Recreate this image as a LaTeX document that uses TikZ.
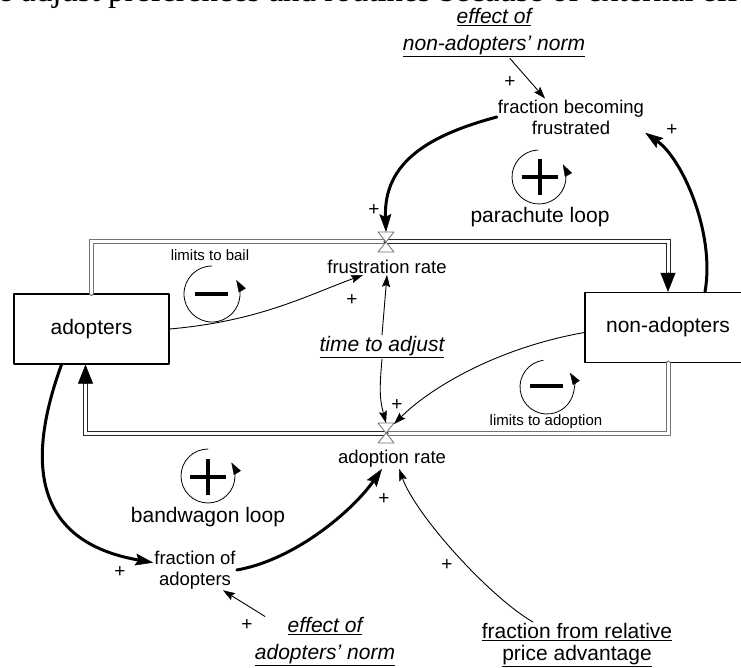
\documentclass[tikz,border=0pt]{standalone}
\usepackage{fontspec}
\setmainfont{Liberation Sans}
\newfontfamily\bodyserif{Liberation Serif}
\usetikzlibrary{arrows.meta}
% underlined label line with a visible rule
\newcommand\ulabel[1]{\leavevmode\vtop{\hbox{#1}\kern1.2pt\hrule height 0.9pt}}

\begin{document}
\begin{tikzpicture}[x=1pt,y=1pt,line cap=round,line join=round,
  >={Stealth[length=12pt,width=8pt,inset=2pt,line width=0.4pt]},
  var/.style={align=center,inner sep=1pt,font=\fontsize{18.5}{21}\selectfont},
  stock/.style={draw,line width=1.2pt,minimum width=155pt,minimum height=70pt,font=\fontsize{21}{24}\selectfont},
  given/.style={inner sep=1pt,font=\fontsize{21}{24}\selectfont},
  givenit/.style={align=center,inner sep=1pt,font=\fontsize{21}{27}\selectfont\itshape},
  looplbl/.style={font=\fontsize{21}{24}\selectfont},
  looplbls/.style={font=\fontsize{15}{18}\selectfont},
  pol/.style={inner sep=0pt,font=\fontsize{19}{20}\selectfont},
  link/.style={->,line width=0.9pt},
  strong/.style={-{Stealth[length=18pt,width=12pt,inset=3pt,line width=0.5pt]},line width=3pt},
  pipe/.style={draw=#1,double=white,double distance=3pt,line width=1pt,line join=miter},
  pipehead/.style={-{Triangle[length=19pt,width=15pt,line width=0.5pt]},line width=1pt},
  valve/.style={draw=black!55,fill=white,line width=0.8pt},
  loopcirc/.style={-{Triangle[length=12pt,width=8pt,line width=0.4pt]},line width=0.8pt},
  sign/.style={line width=4pt,line cap=butt}]
\clip (0,0) rectangle (741,-668);

% running text above the figure
\node[anchor=base west,inner sep=0pt,font=\bodyserif\fontsize{33}{36}\selectfont] (bodyline) at (-2,-2) {e adjust preferences and routines because of external effects};

% stocks and valves
\node[stock] (adopt) at (91.5,-329) {adopters};
\node[stock,minimum width=166pt] (nonadopt) at (668,-327.5) {non-adopters};
\coordinate (vtop) at (386,-242);
\coordinate (vbot) at (386,-433);

% variables
\node[var] (frate) at (387,-267) {frustration rate};
\node[var] (arate) at (392,-459) {adoption rate};
\node[var] (fbf) at (571,-117) {fraction becoming\\frustrated};
\node[var] (foa) at (195,-570) {fraction of\\adopters};
\node[givenit] (tadj) at (382,-347) {\ulabel{time to adjust}};
\node[givenit] (enn) at (494,-33) {\ulabel{effect of}\\\ulabel{non-adopters' norm}};
\node[givenit] (ean) at (325,-642) {\ulabel{effect of}\\\ulabel{adopters' norm}};
\node[given] (frpa) at (577,-632) {\ulabel{fraction from relative}};
\node[given] (frpb) at (577,-656) {\ulabel{price advantage}};

% flows
\draw[pipe=black!55] (adopt.north) |- (vtop);
\draw[pipe=black!85] (vtop) -| ([yshift=19pt]nonadopt.north);
\draw[pipehead] ([yshift=19pt]nonadopt.north) -- (nonadopt.north);
\draw[pipe=black!55] (nonadopt.south) |- (vbot);
\draw[pipe=black!85] (vbot) -| ([xshift=-6pt,yshift=-19pt]adopt.south);
\draw[pipehead] ([xshift=-6pt,yshift=-19pt]adopt.south) -- ([xshift=-6pt]adopt.south);
\draw[valve] ([shift={(-8pt,10pt)}]vtop) -- ++(16,0) -- ++(-16,-20) -- ++(16,0) -- cycle;
\draw[valve] ([shift={(-8pt,10pt)}]vbot) -- ++(16,0) -- ++(-16,-20) -- ++(16,0) -- cycle;

% causal links
\draw[link] ([xshift=16pt]enn.south) -- ([xshift=-26pt]fbf.north);
\draw[strong] (fbf.west) .. controls +(195:70) and +(92:70) .. ([yshift=10pt]vtop);
\draw[strong] ([xshift=37pt]nonadopt.north) .. controls +(80:60) and +(-35:45) .. (fbf.-12);
\draw[link] (adopt.east) .. controls +(5:90) and +(200:60) .. ([xshift=-24pt]frate.south);
\draw[link] (tadj.north) -- (frate.south);
\draw[link] (tadj.south) .. controls +(265:30) and +(105:25) .. ([yshift=10pt]vbot);
\draw[link] ([yshift=-5pt]nonadopt.west) .. controls +(190:90) and +(45:50) .. ([shift={(8pt,9pt)}]vbot);
\draw[strong] ([xshift=-30pt]adopt.south) .. controls +(250:120) and +(170:110) .. (foa.170);
\draw[strong] (foa.east) .. controls +(10:60) and +(235:50) .. ([xshift=-10pt]arate.south);
\draw[link] ([xshift=-44pt]frpa.north) .. controls +(150:50) and +(-70:50) .. ([xshift=7pt]arate.south);
\draw[link] ([xshift=-60pt]ean.north) -- ([xshift=28pt]foa.south);

% link polarities
\node[pol] (sgn1) at (510,-82) {+};
\node[pol] (sgn2) at (672,-130) {+};
\node[pol] (sgn3) at (374,-210) {+};
\node[pol] (sgn4) at (352,-300) {+};
\node[pol] (sgn5) at (397,-405) {+};
\node[pol] (sgn6) at (120,-572) {+};
\node[pol] (sgn7) at (384,-499) {+};
\node[pol] (sgn8) at (447,-565) {+};
\node[pol] (sgn9) at (247,-625) {+};

% loop markers
\draw[loopcirc] (539,-177) ++(92:27) arc (92:388:27);
\draw[sign] (522,-177) -- (558,-177) (540,-159) -- (540,-195);
\node[looplbl] (parachute) at (540,-217) {parachute loop};

\draw[loopcirc] (212,-294) ++(90:28) arc (90:390:28);
\draw[sign] (195,-294) -- (228,-294);
\node[looplbls] (bail) at (210,-255) {limits to bail};

\draw[loopcirc] (547,-387) ++(98:27) arc (98:392:27);
\draw[sign] (530,-386) -- (563,-386);
\node[looplbls] (limadopt) at (546,-422) {limits to adoption};

\draw[loopcirc] (208,-476) ++(90:27) arc (90:390:27);
\draw[sign] (190,-477) -- (226,-477) (208,-459) -- (208,-495);
\node[looplbl] (bandwagon) at (208,-517) {bandwagon loop};
\end{tikzpicture}
\end{document}
